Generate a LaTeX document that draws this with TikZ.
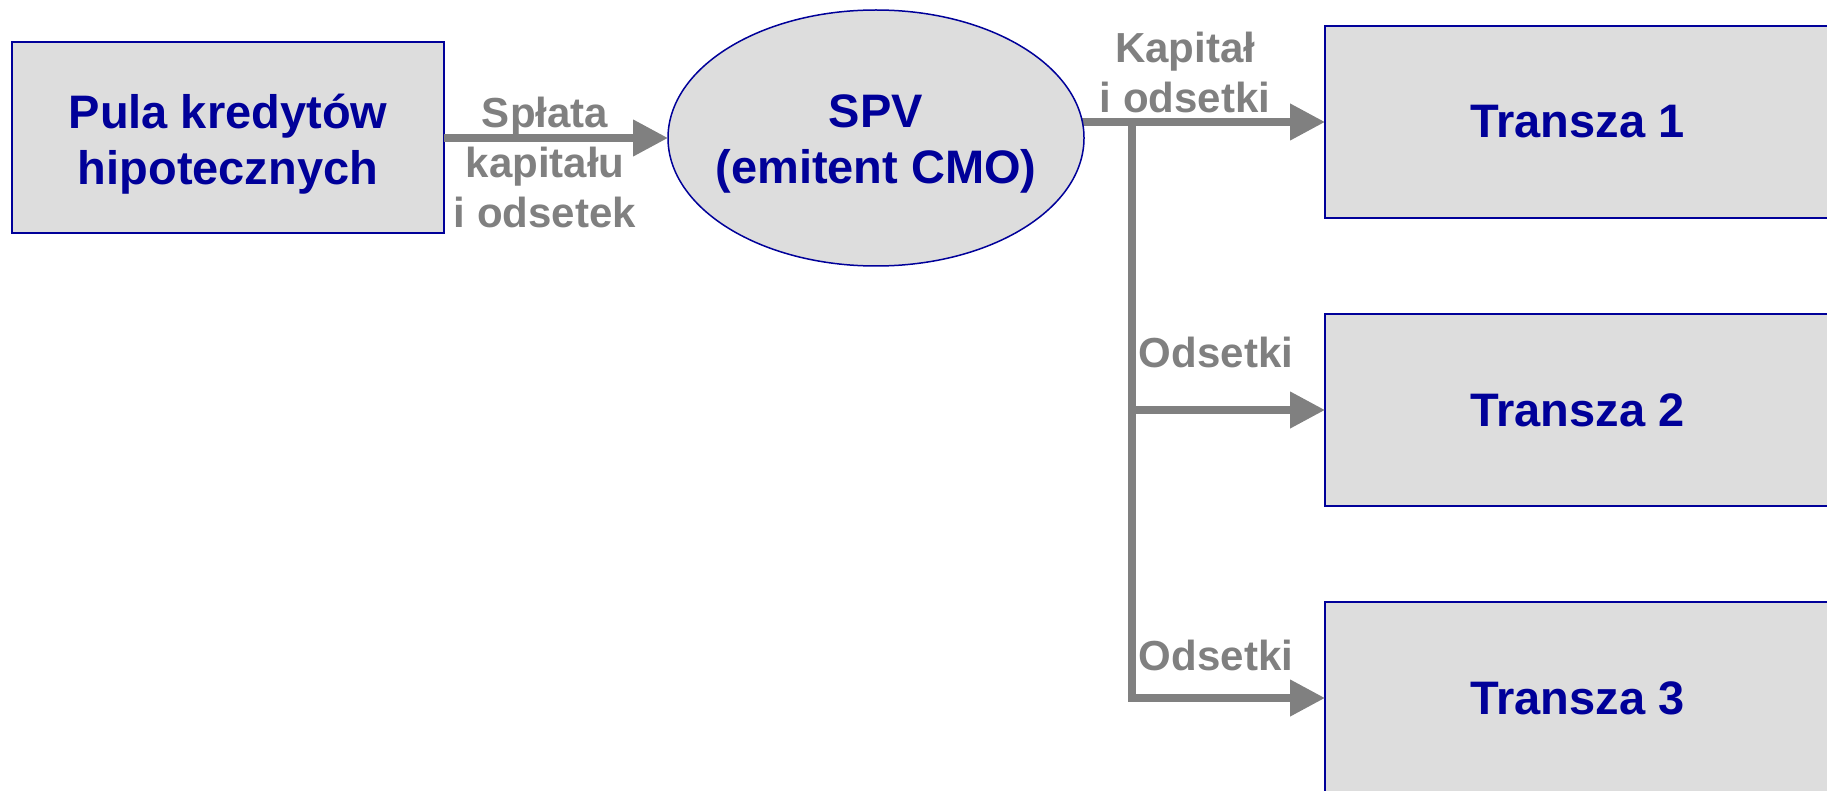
\documentclass[tikz,border=0pt]{standalone}
\usepackage{fontspec}
\setmainfont{Liberation Sans}
\usetikzlibrary{arrows.meta,shapes.geometric}
\definecolor{navy}{HTML}{000099}
\definecolor{boxgray}{HTML}{DDDDDD}
\definecolor{flowgray}{HTML}{808080}
\pgfdeclarelayer{background}
\pgfsetlayers{background,main}
\begin{document}
\begin{tikzpicture}[x=1pt,y=-1pt,
  bluefont/.style={text=navy, font=\bfseries\fontsize{47}{56}\selectfont},
  % two-line captions sit on the cap-height centre, ignoring descenders
  inner/.style={bluefont, align=center, inner sep=0pt, yshift=-6pt},
  box/.style={rectangle, draw=navy, line width=2pt, fill=boxgray,
    inner sep=0pt, outer sep=0pt, bluefont, align=center},
  pool/.style={box, minimum width=432pt, minimum height=191pt},
  tranche/.style={box, minimum width=505pt, minimum height=192pt},
  issuer/.style={ellipse, draw=navy, line width=1.5pt, fill=boxgray,
    minimum width=416pt, minimum height=256pt, inner sep=0pt, outer sep=0pt},
  flowtext/.style={text=flowgray, font=\bfseries\fontsize{42}{50}\selectfont,
    align=center, inner sep=0pt},
  flow/.style={draw=flowgray, line width=7.5pt,
    -{Triangle[length=35pt,width=35pt]}},
]
\useasboundingbox (0,0) rectangle (1827,791);
\clip (0,0) rectangle (1827,791);

% pool, issuer and tranches
\node[pool, label={[inner]center:Pula kredytów\\hipotecznych}] (pula) at (228,138) {};
\node[issuer, label={[inner]center:SPV\\(emitent CMO)}] (spv) at (876,138) {};
\node[tranche] (t1) at (1577.5,122) {Transza 1};
\node[tranche] (t2) at (1577.5,410) {Transza 2};
\node[tranche] (t3) at (1577.5,698) {Transza 3};

% payment flows
\draw[flow] (pula.east) -- (spv.west);
\begin{pgfonlayer}{background}
  \draw[flow] (spv.center |- t1.west) -- (t1.west);
\end{pgfonlayer}
\coordinate (bus) at (1132,122);
\draw[flow] (bus |- t2.west) -- (t2.west);
\draw[flow] (bus) |- (t3.west);

% flow captions
\node[flowtext] (lpay) at (545,162) {Spłata\\kapitału\\i odsetek};
\node[flowtext] (lcap) at (1185,72) {Kapitał\\i odsetki};
\node[flowtext, anchor=base] (lint2) at (1216,367) {Odsetki};
\node[flowtext, anchor=base] (lint3) at (1216,670) {Odsetki};
\end{tikzpicture}
\end{document}
